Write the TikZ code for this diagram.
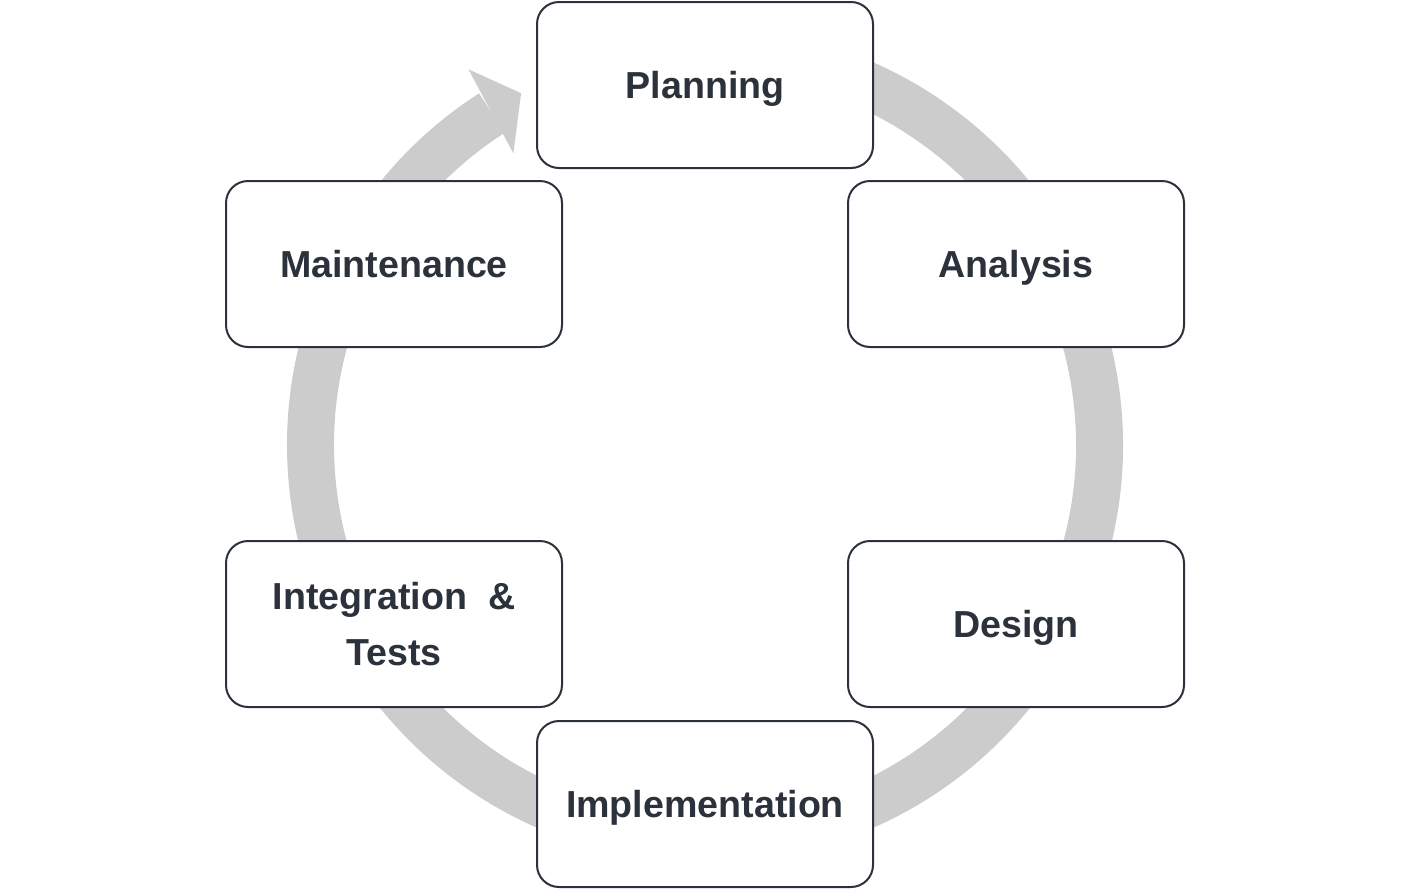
\documentclass[tikz,border=0pt]{standalone}
\usepackage{fontspec}
\setmainfont{Liberation Sans}
\usepackage{xcolor}
\usepackage{tikz}
\usetikzlibrary{shapes,positioning,calc}

\definecolor{ringgray}{HTML}{CCCCCC}
\definecolor{boxline}{HTML}{2B323B}

\begin{document}
\begin{tikzpicture}[x=0.1mm, y=0.1mm,
    phase/.style={draw=boxline, line width=0.2mm, fill=white, rounded corners=2.2mm,
        minimum width=33.6mm, minimum height=16.6mm, inner sep=0pt, align=center,
        text depth=0pt, text=boxline, font=\fontsize{10.7}{15.9}\selectfont\bfseries},
    ring/.style={draw=ringgray, line width=4.7mm}]
    \useasboundingbox (0,0) rectangle (1410,890);
    \coordinate (c) at (705,445);

    % Cycle ring
    \draw[ring] ([shift={(c)}]100:394.5) arc[start angle=100, end angle=-237.3, radius=394.5];
    % Arrow head
    \fill[ringgray] ([shift={(c)}]122.2:444) -- ([shift={(c)}]117.6:397)
        -- ([shift={(c)}]123.3:349) -- cycle;

    % Phases
    \node[phase] (planning) at (705,805) {Planning};
    \node[phase] (analysis) at (1016,626) {Analysis};
    \node[phase] (design) at (1016,266) {Design};
    \node[phase] (implementation) at (705,86) {Implementation};
    \node[phase] (integration) at (394,266) {Integration~~\&\\Tests};
    \node[phase] (maintenance) at (394,626) {Maintenance};
\end{tikzpicture}
\end{document}
